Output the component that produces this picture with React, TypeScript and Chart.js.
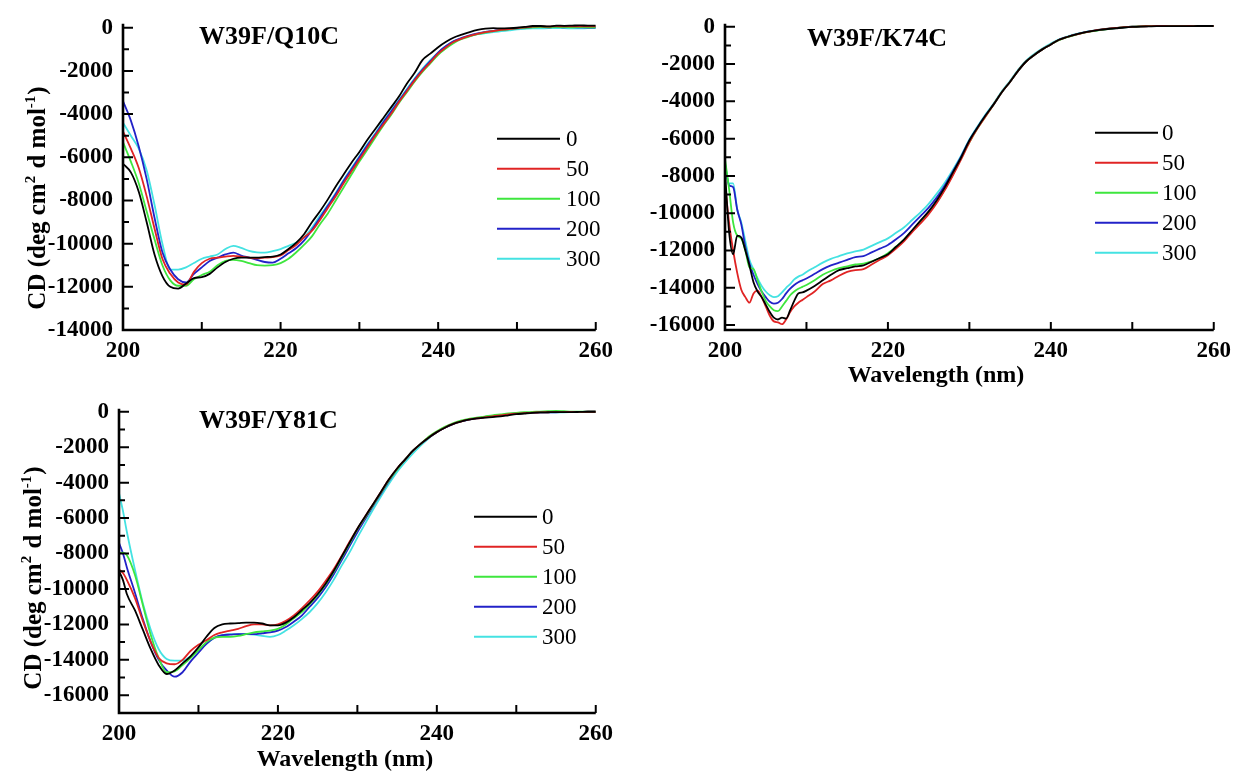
import React, { useEffect, useRef } from "react";
import { Chart, registerables } from "chart.js";

Chart.register(...registerables);

const FONT = "'Liberation Serif', 'Times New Roman', serif";

const SERIES_LABELS = ["0", "50", "100", "200", "300"];
const SERIES_COLORS = ["#000000", "#e02424", "#3ee63e", "#2222c8", "#44e2e2"];

const X_TICK_VALUES = [200, 220, 240, 260];
const X_MINOR_STEP = 10;
const Y_MAJOR_STEP = 2000;
const Y_MINOR_STEP = 1000;
const Q10C_Y_TICKS = [-14000, -12000, -10000, -8000, -6000, -4000, -2000, 0];
const K74C_Y_TICKS = [-16000, -14000, -12000, -10000, -8000, -6000, -4000, -2000, 0];
const Y81C_Y_TICKS = [-16000, -14000, -12000, -10000, -8000, -6000, -4000, -2000, 0];

// ---------- W39F/Q10C ----------
const W_Q10C = [200, 201, 202, 203, 204, 205, 206, 207, 208, 209, 210, 211, 212, 213, 214, 215, 216, 217, 218, 219, 220, 221, 222, 223, 224, 225, 226, 227, 228, 229, 230, 231, 232, 233, 234, 235, 236, 237, 238, 239, 240, 241, 242, 243, 244, 245, 246, 247, 248, 249, 250, 251, 252, 253, 254, 255, 256, 257, 258, 259, 260];
const Q10C_0 = [-6300, -6700, -7600, -9000, -10500, -11500, -12000, -12080, -11850, -11600, -11550, -11400, -11100, -10850, -10700, -10650, -10650, -10650, -10620, -10600, -10500, -10250, -9950, -9550, -9000, -8500, -7950, -7350, -6800, -6250, -5750, -5200, -4700, -4200, -3700, -3200, -2600, -2100, -1500, -1200, -900, -650, -450, -320, -200, -100, -40, -20, -30, -20, 0, 40, 80, 80, 60, 100, 90, 100, 110, 100, 100];
const Q10C_50 = [-4800, -5600, -6500, -7800, -9300, -10700, -11400, -11800, -11900, -11300, -10900, -10700, -10650, -10600, -10570, -10600, -10650, -10680, -10650, -10620, -10550, -10300, -10050, -9700, -9400, -8900, -8350, -7800, -7200, -6650, -6100, -5550, -5000, -4500, -4000, -3450, -2950, -2450, -2000, -1600, -1200, -900, -650, -500, -380, -280, -200, -150, -100, -60, -20, 20, 50, 60, 50, 80, 60, 70, 70, 60, 60];
const Q10C_100 = [-5300, -6200, -7200, -8500, -9800, -11000, -11700, -11950, -11950, -11650, -11450, -11300, -11000, -10800, -10750, -10800, -10900, -11000, -11020, -11000, -10900, -10700, -10400, -10050, -9650, -9100, -8600, -8000, -7400, -6800, -6200, -5650, -5100, -4550, -4050, -3500, -3000, -2500, -2050, -1650, -1250, -950, -700, -520, -400, -300, -220, -160, -110, -70, -30, 0, 20, 30, 20, 40, 30, 20, 30, 20, 20];
const Q10C_200 = [-3400, -4300, -5500, -7000, -8800, -10400, -11200, -11650, -11800, -11400, -11100, -10800, -10650, -10500, -10420, -10550, -10650, -10750, -10850, -10880, -10700, -10450, -10200, -9850, -9350, -8800, -8250, -7700, -7100, -6550, -6000, -5450, -4950, -4400, -3900, -3400, -2900, -2400, -1950, -1550, -1150, -850, -620, -470, -350, -260, -190, -140, -100, -60, -30, 0, 30, 30, 20, 40, 20, 30, 20, 10, 10];
const Q10C_300 = [-4400, -5000, -5600, -6600, -8200, -10000, -11200, -11200, -11100, -10900, -10700, -10600, -10500, -10250, -10100, -10200, -10330, -10400, -10420, -10350, -10250, -10100, -9950, -9700, -9250, -8700, -8200, -7650, -7050, -6500, -5950, -5400, -4900, -4350, -3850, -3350, -2850, -2350, -1900, -1500, -1150, -850, -620, -480, -380, -300, -250, -200, -160, -120, -80, -50, -30, -30, -20, -20, -20, -30, -30, -20, -20];

// ---------- W39F/K74C ----------
const W_K74C = [200, 200.5, 201, 201.5, 202, 202.5, 203, 203.5, 204, 204.5, 205, 205.5, 206, 206.5, 207, 207.5, 208, 208.5, 209, 209.5, 210, 211, 212, 213, 214, 215, 216, 217, 218, 219, 220, 221, 222, 223, 224, 225, 226, 227, 228, 229, 230, 231, 232, 233, 234, 235, 236, 237, 238, 239, 240, 241, 242, 243, 244, 245, 246, 247, 248, 249, 250, 251, 252, 253, 254, 255, 256, 257, 258, 259, 260];
const K74C_0 = [-7800, -11000, -12200, -11200, -11300, -12000, -12800, -13700, -14200, -14500, -14900, -15300, -15600, -15700, -15600, -15650, -15200, -14700, -14300, -14250, -14150, -13900, -13600, -13300, -13050, -12950, -12850, -12800, -12600, -12400, -12200, -11800, -11400, -10900, -10400, -9900, -9300, -8600, -7800, -7000, -6100, -5400, -4750, -4150, -3500, -2950, -2350, -1850, -1500, -1200, -950, -700, -550, -420, -320, -240, -170, -120, -80, -40, -10, 10, 20, 30, 30, 30, 30, 30, 40, 40, 40];
const K74C_50 = [-8400, -10500, -12000, -13200, -14100, -14500, -14800, -14300, -14150, -14500, -15000, -15500, -15800, -15850, -15950, -15700, -15300, -15000, -14800, -14650, -14500, -14200, -13800, -13600, -13350, -13150, -13050, -13000, -12750, -12500, -12250, -11900, -11500, -11000, -10550, -10050, -9450, -8750, -7950, -7100, -6200, -5450, -4800, -4150, -3500, -2950, -2350, -1850, -1500, -1200, -950, -700, -550, -420, -320, -230, -160, -100, -60, -20, 0, 20, 30, 40, 40, 30, 30, 40, 30, 40, 40];
const K74C_100 = [-7100, -8700, -10500, -11200, -11350, -12000, -12900, -13000, -13600, -14200, -14700, -15000, -15200, -15250, -15000, -14700, -14400, -14200, -14050, -13950, -13850, -13600, -13300, -13100, -12950, -12850, -12750, -12700, -12580, -12400, -12150, -11800, -11400, -10950, -10450, -9950, -9400, -8700, -7900, -7050, -6200, -5450, -4800, -4150, -3500, -2950, -2350, -1850, -1500, -1200, -950, -720, -560, -430, -330, -250, -180, -120, -70, -30, 0, 20, 40, 50, 40, 40, 40, 40, 50, 40, 40];
const K74C_200 = [-7400, -8500, -8600, -9800, -10600, -11800, -12700, -13300, -13800, -14200, -14500, -14750, -14850, -14800, -14600, -14300, -14050, -13850, -13700, -13600, -13500, -13250, -13000, -12800, -12650, -12500, -12350, -12300, -12100, -11900, -11700, -11400, -11050, -10600, -10150, -9700, -9150, -8500, -7750, -6950, -6100, -5400, -4750, -4150, -3500, -2950, -2350, -1850, -1500, -1200, -950, -700, -550, -420, -320, -240, -170, -110, -70, -30, 0, 20, 30, 40, 40, 40, 40, 40, 40, 40, 40];
const K74C_300 = [-7300, -8400, -8400, -9800, -10500, -11500, -12500, -13000, -13500, -13900, -14200, -14400, -14500, -14450, -14250, -14000, -13800, -13550, -13400, -13300, -13150, -12900, -12650, -12450, -12300, -12150, -12050, -11950, -11750, -11550, -11350, -11050, -10750, -10350, -9950, -9500, -8950, -8350, -7650, -6900, -6050, -5350, -4700, -4100, -3450, -2900, -2300, -1800, -1450, -1150, -900, -680, -530, -400, -300, -220, -150, -100, -60, -20, 10, 30, 40, 50, 50, 50, 50, 50, 50, 50, 50];

// ---------- W39F/Y81C ----------
const W_Y81C = [200, 200.5, 201, 202, 203, 204, 205, 206, 207, 208, 209, 210, 211, 212, 213, 214, 215, 216, 217, 218, 219, 220, 221, 222, 223, 224, 225, 226, 227, 228, 229, 230, 231, 232, 233, 234, 235, 236, 237, 238, 239, 240, 241, 242, 243, 244, 245, 246, 247, 248, 249, 250, 251, 252, 253, 254, 255, 256, 257, 258, 259, 260];
const Y81C_0 = [-9000, -9500, -10300, -11200, -12300, -13400, -14300, -14800, -14600, -14200, -13800, -13300, -12700, -12200, -12000, -11950, -11930, -11900, -11900, -11950, -12050, -12050, -11900, -11600, -11200, -10800, -10300, -9700, -9000, -8200, -7400, -6600, -5900, -5200, -4500, -3800, -3200, -2700, -2200, -1800, -1450, -1150, -900, -700, -560, -450, -380, -330, -300, -260, -200, -140, -100, -60, -40, -30, -20, -20, -20, -10, 0, 0];
const Y81C_50 = [-8900, -9100, -9500, -10500, -11800, -13000, -13900, -14200, -14250, -14000, -13500, -13150, -12900, -12600, -12450, -12350, -12250, -12100, -12000, -12000, -12050, -12000, -11800, -11500, -11100, -10650, -10150, -9550, -8900, -8150, -7350, -6600, -5900, -5200, -4500, -3800, -3200, -2700, -2200, -1800, -1450, -1150, -900, -700, -560, -450, -380, -320, -260, -200, -150, -110, -80, -50, -40, -30, -20, -20, -10, -10, 0, 0];
const Y81C_100 = [-8000, -7950, -8100, -9200, -10900, -12600, -13900, -14700, -14650, -14300, -13900, -13450, -13000, -12750, -12700, -12700, -12650, -12550, -12450, -12400, -12350, -12250, -12000, -11650, -11300, -10850, -10350, -9750, -9050, -8250, -7450, -6650, -5950, -5250, -4550, -3850, -3250, -2700, -2200, -1800, -1400, -1100, -850, -650, -500, -400, -330, -270, -200, -150, -100, -60, -30, -10, 10, 30, 50, 30, 10, 0, 0, 0];
const Y81C_200 = [-7400, -8000, -8800, -10200, -11700, -13000, -14000, -14600, -14950, -14700, -14100, -13600, -13100, -12750, -12600, -12580, -12550, -12550, -12550, -12500, -12450, -12350, -12150, -11850, -11500, -11000, -10500, -9900, -9200, -8400, -7600, -6800, -6050, -5300, -4600, -3900, -3250, -2700, -2200, -1800, -1450, -1150, -900, -700, -550, -440, -370, -310, -250, -190, -140, -100, -70, -50, -40, -30, -30, -20, -20, -10, 0, 0];
const Y81C_300 = [-4600, -5600, -6800, -8900, -10800, -12300, -13400, -13950, -14050, -14050, -13800, -13500, -13100, -12750, -12600, -12550, -12550, -12550, -12580, -12650, -12700, -12600, -12350, -12050, -11700, -11300, -10800, -10200, -9500, -8700, -7950, -7100, -6300, -5500, -4750, -4050, -3400, -2850, -2350, -1900, -1500, -1150, -900, -700, -550, -440, -360, -300, -250, -200, -150, -110, -80, -60, -50, -40, -30, -30, -20, -10, 0, 0];

type PanelCfg = {
  left: number;
  top: number;
  width: number;
  height: number;
  padTop: number;
  padRight: number;
  yAxisWidth: number;
  xAxisHeight: number;
  yMin: number;
  yMax: number;
  yTicks: number[];
  wavelengths: number[];
  series: number[][];
  title: string;
  titleDx: number;
  titleDy: number;
  legendDx: number;
  legendDy: number;
  legendGap: number;
  legendLine: number;
  legendTextGap: number;
  yTitle?: { x: number; y: number };
  xTitle?: { x: number; y: number };
};

const PANELS: PanelCfg[] = [
  {
    left: 0, top: 0, width: 620, height: 372,
    padTop: 20, padRight: 12, yAxisWidth: 123, xAxisHeight: 42,
    yMin: -14000, yMax: 183, yTicks: Q10C_Y_TICKS,
    wavelengths: W_Q10C,
    series: [Q10C_0, Q10C_50, Q10C_100, Q10C_200, Q10C_300],
    title: "W39F/Q10C", titleDx: 76, titleDy: 13,
    legendDx: 374, legendDy: 115, legendGap: 30, legendLine: 63, legendTextGap: 69,
    yTitle: { x: 45, y: 198 },
  },
  {
    left: 630, top: 0, width: 608, height: 395,
    padTop: 18, padRight: 22, yAxisWidth: 95, xAxisHeight: 65,
    yMin: -16263, yMax: 158, yTicks: K74C_Y_TICKS,
    wavelengths: W_K74C,
    series: [K74C_0, K74C_50, K74C_100, K74C_200, K74C_300],
    title: "W39F/K74C", titleDx: 82, titleDy: 15,
    legendDx: 370, legendDy: 109, legendGap: 30, legendLine: 63, legendTextGap: 67,
    xTitle: { x: 306, y: 376 },
  },
  {
    left: 0, top: 385, width: 620, height: 391,
    padTop: 18, padRight: 12, yAxisWidth: 119, xAxisHeight: 63,
    yMin: -17000, yMax: 166, yTicks: Y81C_Y_TICKS,
    wavelengths: W_Y81C,
    series: [Y81C_0, Y81C_50, Y81C_100, Y81C_200, Y81C_300],
    title: "W39F/Y81C", titleDx: 80, titleDy: 12,
    legendDx: 355, legendDy: 108, legendGap: 30, legendLine: 63, legendTextGap: 68,
    yTitle: { x: 41, y: 193 },
    xTitle: { x: 345, y: 375 },
  },
];

function drawYTitle(ctx: CanvasRenderingContext2D, x: number, y: number) {
  const parts: { t: string; sup: boolean }[] = [
    { t: "CD (deg cm", sup: false },
    { t: "2", sup: true },
    { t: " d mol", sup: false },
    { t: "-1", sup: true },
    { t: ")", sup: false },
  ];
  const mainFont = `bold 25px ${FONT}`;
  const supFont = `bold 15px ${FONT}`;
  let total = 0;
  for (const p of parts) {
    ctx.font = p.sup ? supFont : mainFont;
    total += ctx.measureText(p.t).width + (p.sup ? 1 : 0);
  }
  ctx.save();
  ctx.translate(x, y);
  ctx.rotate(-Math.PI / 2);
  ctx.fillStyle = "#000";
  ctx.textBaseline = "alphabetic";
  ctx.textAlign = "left";
  let cx = -total / 2;
  for (const p of parts) {
    ctx.font = p.sup ? supFont : mainFont;
    ctx.fillText(p.t, cx, p.sup ? -10 : 0);
    cx += ctx.measureText(p.t).width + (p.sup ? 1 : 0);
  }
  ctx.restore();
}

function Panel({ cfg }: { cfg: PanelCfg }) {
  const ref = useRef<HTMLCanvasElement>(null);

  useEffect(() => {
    if (!ref.current) return;
    const decor = {
      id: "decor",
      afterDraw(chart: any) {
        const ctx: CanvasRenderingContext2D = chart.ctx;
        const { left, right, top, bottom } = chart.chartArea;
        const xs = chart.scales.x;
        const ys = chart.scales.y;
        ctx.save();
        ctx.strokeStyle = "#000";
        ctx.lineCap = "butt";
        // inward ticks on x
        ctx.lineWidth = 2;
        ctx.beginPath();
        for (let v = xs.min; v <= xs.max + 1e-6; v += X_MINOR_STEP) {
          const px = xs.getPixelForValue(v);
          ctx.moveTo(px, bottom);
          ctx.lineTo(px, bottom - 8);
        }
        // inward ticks on y
        const start = Math.ceil(cfg.yMin / Y_MINOR_STEP) * Y_MINOR_STEP;
        for (let v = start; v <= cfg.yMax; v += Y_MINOR_STEP) {
          const py = ys.getPixelForValue(v);
          const len = v % Y_MAJOR_STEP === 0 ? 10 : 6;
          ctx.moveTo(left, py);
          ctx.lineTo(left + len, py);
        }
        ctx.stroke();
        // axis lines
        ctx.lineWidth = 2.6;
        ctx.beginPath();
        ctx.moveTo(left, top);
        ctx.lineTo(left, bottom + 1.3);
        ctx.moveTo(left - 1.3, bottom);
        ctx.lineTo(right, bottom);
        ctx.stroke();

        // panel title
        ctx.fillStyle = "#000";
        ctx.font = `bold 26px ${FONT}`;
        ctx.textAlign = "left";
        ctx.textBaseline = "middle";
        ctx.fillText(cfg.title, left + cfg.titleDx, top + cfg.titleDy);

        // legend
        ctx.font = `23px ${FONT}`;
        chart.data.datasets.forEach((ds: any, i: number) => {
          const y = top + cfg.legendDy + i * cfg.legendGap;
          const x0 = left + cfg.legendDx;
          ctx.strokeStyle = ds.borderColor;
          ctx.lineWidth = 2;
          ctx.beginPath();
          ctx.moveTo(x0, y);
          ctx.lineTo(x0 + cfg.legendLine, y);
          ctx.stroke();
          ctx.fillStyle = "#000";
          ctx.fillText(ds.label, x0 + cfg.legendTextGap, y + 1);
        });

        // axis titles
        if (cfg.xTitle) {
          ctx.font = `bold 24px ${FONT}`;
          ctx.textAlign = "center";
          ctx.textBaseline = "middle";
          ctx.fillStyle = "#000";
          ctx.fillText("Wavelength (nm)", cfg.xTitle.x, cfg.xTitle.y);
        }
        ctx.restore();
        if (cfg.yTitle) drawYTitle(ctx, cfg.yTitle.x, cfg.yTitle.y);
      },
    };

    const chart = new Chart(ref.current, {
      type: "line",
      data: {
        datasets: cfg.series.map((vals, i) => ({
          label: SERIES_LABELS[i],
          data: cfg.wavelengths.map((w, j) => ({ x: w, y: vals[j] })),
          borderColor: SERIES_COLORS[i],
          borderWidth: 1.8,
          pointRadius: 0,
          fill: false,
          cubicInterpolationMode: "monotone" as const,
        })),
      },
      options: {
        responsive: false,
        animation: false,
        devicePixelRatio: 1,
        layout: { padding: { top: cfg.padTop, right: cfg.padRight, left: 0, bottom: 0 } },
        plugins: {
          legend: { display: false },
          tooltip: { enabled: false },
          title: { display: false },
        },
        scales: {
          x: {
            type: "linear",
            min: 200,
            max: 260,
            afterFit: (s: any) => {
              s.height = cfg.xAxisHeight;
            },
            afterBuildTicks: (s: any) => {
              s.ticks = X_TICK_VALUES.map((v) => ({ value: v }));
            },
            grid: { display: false, drawTicks: false },
            border: { display: false },
            ticks: {
              autoSkip: false,
              maxRotation: 0,
              padding: 7,
              color: "#000",
              font: { family: FONT, size: 23, weight: "bold" },
              callback: (v: any) => String(v),
            },
          },
          y: {
            type: "linear",
            min: cfg.yMin,
            max: cfg.yMax,
            afterFit: (s: any) => {
              s.width = cfg.yAxisWidth;
            },
            afterBuildTicks: (s: any) => {
              s.ticks = cfg.yTicks.map((v) => ({ value: v }));
            },
            grid: { display: false, drawTicks: false },
            border: { display: false },
            ticks: {
              autoSkip: false,
              padding: 10,
              color: "#000",
              font: { family: FONT, size: 23, weight: "bold" },
              callback: (v: any) => String(v),
            },
          },
        },
      } as any,
      plugins: [decor],
    });
    return () => chart.destroy();
  }, [cfg]);

  return (
    <canvas
      ref={ref}
      width={cfg.width}
      height={cfg.height}
      style={{ position: "absolute", left: cfg.left, top: cfg.top, width: cfg.width, height: cfg.height }}
    />
  );
}

export default function App() {
  return (
    <div style={{ position: "absolute", left: 0, top: 0, width: 1238, height: 776, background: "#ffffff", overflow: "hidden" }}>
      {PANELS.map((p, i) => (
        <Panel key={i} cfg={p} />
      ))}
    </div>
  );
}
